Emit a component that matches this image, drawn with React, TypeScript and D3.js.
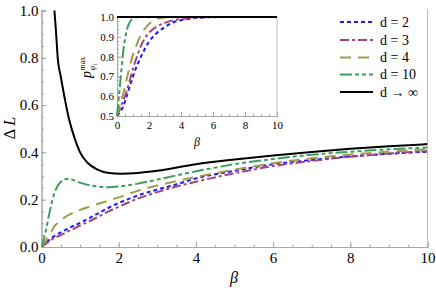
import React, { useRef, useEffect } from "react";
import * as d3 from "d3";

// main plot: Delta L vs beta
const betaGrid = [0, 0.1, 0.2, 0.35, 0.5, 0.65, 0.8, 1, 1.25, 1.5, 1.75, 2, 2.5, 3, 3.5, 4, 5, 6, 7, 8, 9, 10];
const dL_d2 = [0, 0.015, 0.03, 0.048, 0.062, 0.075, 0.087, 0.102, 0.123, 0.145, 0.167, 0.186, 0.218, 0.243, 0.265, 0.29, 0.322, 0.35, 0.368, 0.383, 0.394, 0.403];
const dL_d3 = [0, 0.012, 0.024, 0.04, 0.05, 0.063, 0.075, 0.091, 0.11, 0.13, 0.152, 0.17, 0.205, 0.232, 0.256, 0.276, 0.312, 0.342, 0.364, 0.382, 0.395, 0.406];
const dL_d4 = [0, 0.025, 0.05, 0.09, 0.112, 0.13, 0.143, 0.157, 0.171, 0.184, 0.197, 0.21, 0.238, 0.26, 0.279, 0.296, 0.327, 0.354, 0.375, 0.391, 0.403, 0.413];
const dL_d10 = [0, 0.06, 0.14, 0.235, 0.276, 0.288, 0.284, 0.272, 0.261, 0.255, 0.253, 0.256, 0.268, 0.285, 0.303, 0.32, 0.35, 0.372, 0.39, 0.403, 0.413, 0.421];
const betaInf = [0.335, 0.38, 0.42, 0.5, 0.6, 0.7, 0.8, 0.9, 1, 1.2, 1.45, 1.75, 2.05, 2.5, 3, 4, 5, 6, 7, 8, 9, 10];
const dL_inf = [1.0, 0.9, 0.8, 0.72, 0.63, 0.55, 0.49, 0.44, 0.4, 0.355, 0.327, 0.313, 0.31, 0.313, 0.322, 0.35, 0.37, 0.387, 0.402, 0.415, 0.426, 0.435];

// inset: p max vs beta
const betaInset = [0, 0.2, 0.4, 0.6, 0.8, 1, 1.25, 1.5, 2, 2.5, 3, 3.5, 4, 5, 6, 7, 8, 10];
const p_d2 = [0.5, 0.52, 0.55, 0.6, 0.65, 0.7, 0.755, 0.8, 0.875, 0.92, 0.95, 0.972, 0.984, 0.995, 0.999, 1, 1, 1];
const p_d3 = [0.5, 0.54, 0.58, 0.625, 0.68, 0.74, 0.8, 0.855, 0.92, 0.952, 0.97, 0.983, 0.99, 0.997, 1, 1, 1, 1];
const p_d4 = [0.5, 0.56, 0.615, 0.685, 0.75, 0.81, 0.865, 0.91, 0.965, 0.99, 0.998, 1, 1, 1, 1, 1, 1, 1];
const p_d10 = [0.5, 0.667, 0.833, 0.93, 0.975, 0.993, 0.999, 1, 1, 1, 1, 1, 1, 1, 1, 1, 1, 1];
const p_inf = [1, 1, 1, 1, 1, 1, 1, 1, 1, 1, 1, 1, 1, 1, 1, 1, 1, 1];

const legendLabels = ["d = 2", "d = 3", "d = 4", "d = 10", "d \u2192 \u221e"];
const xTicks = [0, 2, 4, 6, 8, 10];
const yTicks = [0, 0.2, 0.4, 0.6, 0.8, 1.0];
const insetYTicks = [0.5, 0.6, 0.7, 0.8, 0.9, 1.0];

const styles = [
    { color: "#1a1aff", dash: "4,3" },
    { color: "#a3457a", dash: "9,3,3,3" },
    { color: "#a39a4a", dash: "11,7" },
    { color: "#3c9e5e", dash: "12,3,4,3,4,3" },
    { color: "#000000", dash: "" },
];

const FONT = "Liberation Serif";

const App: React.FC = () => {
    const ref = useRef<SVGSVGElement | null>(null);

    useEffect(() => {
        if (!ref.current) return;
        const svg = d3.select(ref.current);
        svg.selectAll("*").remove();

        svg.append("rect").attr("width", 436).attr("height", 288).attr("fill", "#fff");

        const x = d3.scaleLinear().domain([0, 10]).range([41.5, 427.5]);
        const y = d3.scaleLinear().domain([0, 1]).range([247, 10.5]);

        const styleAxis = (g: any, size: number) => {
            g.attr("font-family", FONT).attr("font-size", size);
            g.select(".domain").attr("stroke", "#a6a6a6");
            g.selectAll(".tick line").attr("stroke", "#a6a6a6");
            g.selectAll("text").attr("fill", "#000");
        };

        // main axes
        const gx = svg.append("g").attr("transform", "translate(0,247)")
            .call(d3.axisBottom(x).tickValues(xTicks).tickFormat(d3.format("d")).tickSize(-5).tickPadding(5));
        styleAxis(gx, 15);
        const gxm = svg.append("g").attr("transform", "translate(0,247)")
            .call(d3.axisBottom(x).tickValues(d3.range(0, 10.01, 0.5)).tickFormat(() => "").tickSize(-2.5));
        styleAxis(gxm, 15);
        const gy = svg.append("g").attr("transform", "translate(41.5,0)")
            .call(d3.axisLeft(y).tickValues(yTicks).tickFormat(d3.format(".1f")).tickSize(-5).tickPadding(3));
        styleAxis(gy, 15);
        const gym = svg.append("g").attr("transform", "translate(41.5,0)")
            .call(d3.axisLeft(y).tickValues(d3.range(0, 1.001, 0.05)).tickFormat(() => "").tickSize(-2.5));
        styleAxis(gym, 15);
        svg.append("line").attr("x1", 427.5).attr("x2", 427.5).attr("y1", 9).attr("y2", 247)
            .attr("stroke", "#bdbdbd");

        svg.append("text").attr("x", 234).attr("y", 283).attr("text-anchor", "middle")
            .attr("font-family", FONT).attr("font-size", 16).attr("font-style", "italic").text("\u03b2");
        const yl = svg.append("text").attr("transform", "translate(15,128) rotate(-90)")
            .attr("text-anchor", "middle").attr("font-family", FONT).attr("font-size", 16);
        yl.append("tspan").text("\u0394 ");
        yl.append("tspan").attr("font-style", "italic").text("L");

        svg.append("clipPath").attr("id", "mainclip").append("rect")
            .attr("x", 41.5).attr("y", 10).attr("width", 386).attr("height", 237);

        const line = d3.line<[number, number]>()
            .x(d => x(d[0])).y(d => y(d[1])).curve(d3.curveMonotoneX);

        const mainSeries: [number, number][][] = [
            betaGrid.map((b, i) => [b, dL_d2[i]]),
            betaGrid.map((b, i) => [b, dL_d3[i]]),
            betaGrid.map((b, i) => [b, dL_d4[i]]),
            betaGrid.map((b, i) => [b, dL_d10[i]]),
            betaInf.map((b, i) => [b, dL_inf[i]]),
        ];
        const mg = svg.append("g").attr("clip-path", "url(#mainclip)");
        mainSeries.forEach((s, i) => {
            mg.append("path").datum(s).attr("d", line as any).attr("fill", "none")
                .attr("stroke", styles[i].color).attr("stroke-width", 2)
                .attr("stroke-dasharray", styles[i].dash);
        });

        // inset
        const ix = d3.scaleLinear().domain([0, 10]).range([117, 277]);
        const iy = d3.scaleLinear().domain([0.5, 1]).range([116, 17]);
        const ig = svg.append("g");
        const igx = ig.append("g").attr("transform", "translate(0,116)")
            .call(d3.axisBottom(ix).tickValues(xTicks).tickFormat(d3.format("d")).tickSize(-4).tickPadding(5));
        styleAxis(igx, 11);
        const igxm = ig.append("g").attr("transform", "translate(0,116)")
            .call(d3.axisBottom(ix).tickValues(d3.range(0, 10.01, 0.5)).tickFormat(() => "").tickSize(-2));
        styleAxis(igxm, 11);
        const igy = ig.append("g").attr("transform", "translate(117,0)")
            .call(d3.axisLeft(iy).tickValues(insetYTicks).tickFormat(d3.format(".1f")).tickSize(-4).tickPadding(3));
        styleAxis(igy, 11);
        const igym = ig.append("g").attr("transform", "translate(117,0)")
            .call(d3.axisLeft(iy).tickValues(d3.range(0.5, 1.001, 0.02)).tickFormat(() => "").tickSize(-2));
        styleAxis(igym, 11);
        ig.append("line").attr("x1", 277).attr("x2", 277).attr("y1", 17).attr("y2", 116)
            .attr("stroke", "#bdbdbd");

        ig.append("text").attr("x", 197).attr("y", 146).attr("text-anchor", "middle")
            .attr("font-family", FONT).attr("font-size", 12).attr("font-style", "italic").text("\u03b2");
        const pl = ig.append("g").attr("transform", "translate(91,78) rotate(-90)")
            .attr("font-family", FONT);
        pl.append("text").attr("x", 0).attr("y", 0).attr("font-size", 14).attr("font-style", "italic").text("p");
        pl.append("text").attr("x", 7.5).attr("y", 4).attr("font-size", 8).attr("font-style", "italic").text("\u03c6\u2081");
        pl.append("text").attr("x", 7.5).attr("y", -6).attr("font-size", 8).text("max");

        const iline = d3.line<[number, number]>()
            .x(d => ix(d[0])).y(d => iy(d[1])).curve(d3.curveMonotoneX);
        const insetSeries = [p_d2, p_d3, p_d4, p_d10, p_inf].map(vals =>
            betaInset.map((b, i) => [b, vals[i]] as [number, number]));
        insetSeries.forEach((s, i) => {
            ig.append("path").datum(s).attr("d", iline as any).attr("fill", "none")
                .attr("stroke", styles[i].color).attr("stroke-width", i === 4 ? 2.2 : 2)
                .attr("stroke-dasharray", styles[i].dash);
        });

        // legend
        const rowsY = [22, 40, 57.5, 74.5, 92];
        legendLabels.forEach((label, i) => {
            const lg = svg.append("g").attr("transform", `translate(340,${rowsY[i]})`);
            lg.append("line").attr("x1", 0).attr("x2", 33).attr("y1", 0).attr("y2", 0)
                .attr("stroke", styles[i].color).attr("stroke-width", 2)
                .attr("stroke-dasharray", styles[i].dash);
            lg.append("text").attr("x", 40).attr("y", 0).attr("dy", "0.35em")
                .attr("font-family", FONT).attr("font-size", 14).text(label);
        });
    }, []);

    return (
        <svg ref={ref} width={436} height={288}
            style={{ position: "absolute", left: 0, top: 0, display: "block" }} />
    );
};

export default App;
